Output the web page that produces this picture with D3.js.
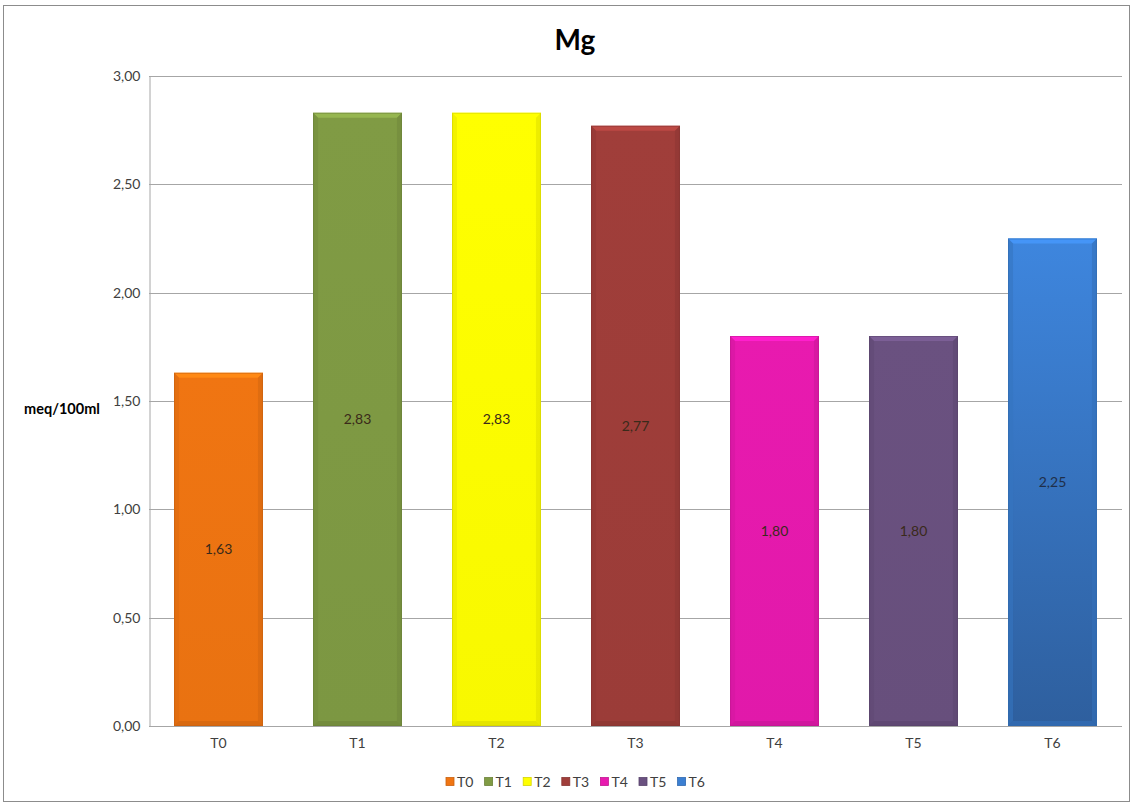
<!DOCTYPE html>
<html>
<head>
<meta charset="utf-8">
<script src="https://cdn.jsdelivr.net/npm/d3@7"></script>
<style>
  html, body { margin: 0; padding: 0; background: #fff; }
  svg { display: block; font-family: Lato, "Open Sans", "Liberation Sans", sans-serif; }
</style>
</head>
<body>
<svg id="chart" width="1132" height="805"></svg>
<script>
// Mg content per treatment (meq/100ml)
const categories = ["T0", "T1", "T2", "T3", "T4", "T5", "T6"];
const values = [1.63, 2.83, 2.83, 2.77, 1.80, 1.80, 2.25];
const colors = ["#F07512", "#809B44", "#FFFF00", "#A03E3A", "#E81AAF", "#6A5180", "#3B7FD2"];
const yTicks = [0, 0.5, 1, 1.5, 2, 2.5, 3];

const svg = d3.select("#chart");
const plot = { left: 149, right: 1122, top: 76, bottom: 726 };

const fmt = v => d3.format(".2f")(v).replace(".", ",");

// outer frame
svg.append("rect")
  .attr("x", 3.5).attr("y", 5.5).attr("width", 1126).attr("height", 796)
  .attr("fill", "#fff").attr("stroke", "#8c8c8c").attr("stroke-width", 1);

const x = d3.scaleBand().domain(categories).range([plot.left, plot.right]).paddingInner(0.36).paddingOuter(0.18);
const y = d3.scaleLinear().domain([0, 3]).range([plot.bottom, plot.top]);

// gridlines
svg.append("g").selectAll("line").data(yTicks).join("line")
  .attr("x1", plot.left).attr("x2", plot.right)
  .attr("y1", d => Math.round(y(d)) + 0.5).attr("y2", d => Math.round(y(d)) + 0.5)
  .attr("stroke", "#a6a6a6").attr("stroke-width", 1);

// y axis
const yAxis = svg.append("g")
  .attr("transform", `translate(${plot.left + 0.5},0)`)
  .call(d3.axisLeft(y).tickValues(yTicks).tickFormat(fmt).tickSize(0).tickPadding(9));
yAxis.select(".domain").attr("stroke", "#a6a6a6");
yAxis.selectAll("text").attr("font-size", 14).attr("fill", "#404040")
  .attr("font-family", "Lato, 'Open Sans', sans-serif");

// x axis
const xAxis = svg.append("g")
  .attr("transform", `translate(0,${plot.bottom + 0.5})`)
  .call(d3.axisBottom(x).tickSize(0).tickPadding(12));
xAxis.select(".domain").remove();
xAxis.selectAll("text").attr("font-size", 14).attr("fill", "#404040")
  .attr("font-family", "Lato, 'Open Sans', sans-serif");

// gradients for the bevelled bars
const defs = svg.append("defs");
colors.forEach((c, i) => {
  const g = defs.append("linearGradient").attr("id", "g" + i)
    .attr("x1", 0).attr("y1", 0).attr("x2", 0).attr("y2", 1);
  const base = d3.color(c);
  const top = i === 6 ? base.brighter(0.15) : base;
  const bot = i === 6 ? d3.color("#2E5F9E") : base.darker(0.08);
  g.append("stop").attr("offset", 0).attr("stop-color", top);
  g.append("stop").attr("offset", 1).attr("stop-color", bot);
});

const bars = svg.append("g").selectAll("g").data(values).join("g");
const bev = 5;

bars.append("rect")
  .attr("x", (d, i) => x(categories[i]))
  .attr("y", d => y(d))
  .attr("width", x.bandwidth())
  .attr("height", d => y(0) - y(d))
  .attr("fill", (d, i) => `url(#g${i})`);

// bevel edges: top lighter, sides and bottom darker
bars.append("path")
  .attr("d", (d, i) => {
    const x0 = x(categories[i]), x1 = x0 + x.bandwidth(), y0 = y(d);
    return `M${x0},${y0}L${x1},${y0}L${x1 - bev},${y0 + bev}L${x0 + bev},${y0 + bev}Z`;
  })
  .attr("fill", (d, i) => d3.color(colors[i]).brighter(0.45));
bars.append("path")
  .attr("d", (d, i) => {
    const x0 = x(categories[i]), y0 = y(d), y1 = y(0);
    return `M${x0},${y0}L${x0 + bev},${y0 + bev}L${x0 + bev},${y1 - bev}L${x0},${y1}Z`;
  })
  .attr("fill", (d, i) => d3.color(colors[i]).darker(0.25)).attr("opacity", 0.6);
bars.append("path")
  .attr("d", (d, i) => {
    const x1 = x(categories[i]) + x.bandwidth(), y0 = y(d), y1 = y(0);
    return `M${x1},${y0}L${x1 - bev},${y0 + bev}L${x1 - bev},${y1 - bev}L${x1},${y1}Z`;
  })
  .attr("fill", (d, i) => d3.color(colors[i]).darker(0.35)).attr("opacity", 0.6);
bars.append("path")
  .attr("d", (d, i) => {
    const x0 = x(categories[i]), x1 = x0 + x.bandwidth(), y1 = y(0);
    return `M${x0},${y1}L${x0 + bev},${y1 - bev}L${x1 - bev},${y1 - bev}L${x1},${y1}Z`;
  })
  .attr("fill", (d, i) => d3.color(colors[i]).darker(0.4)).attr("opacity", 0.7);
bars.append("rect")
  .attr("x", (d, i) => x(categories[i]) + 0.5)
  .attr("y", d => y(d) + 0.5)
  .attr("width", x.bandwidth() - 1)
  .attr("height", d => y(0) - y(d) - 1)
  .attr("fill", "none")
  .attr("stroke", (d, i) => d3.color(colors[i]).darker(0.6)).attr("stroke-opacity", 0.5);

// value labels at mid-height
bars.append("text")
  .attr("x", (d, i) => x(categories[i]) + x.bandwidth() / 2)
  .attr("y", d => (y(d) + y(0)) / 2)
  .attr("dy", "0.35em")
  .attr("text-anchor", "middle")
  .attr("font-size", 14)
  .attr("fill", (d, i) => i === 6 ? "#1f2f4a" : "#3a2a1a")
  .text(d => fmt(d));

// title
svg.append("text")
  .attr("x", 575).attr("y", 50)
  .attr("text-anchor", "middle")
  .attr("font-size", 28).attr("font-weight", "bold").attr("fill", "#000")
  .text("Mg");

// y axis title
svg.append("text")
  .attr("x", 62).attr("y", 409)
  .attr("dy", "0.35em")
  .attr("text-anchor", "middle")
  .attr("font-size", 14.5).attr("font-weight", "bold").attr("fill", "#000")
  .text("meq/100ml");

// legend
const legend = svg.append("g").attr("transform", "translate(446,782)");
const items = legend.selectAll("g").data(categories).join("g")
  .attr("transform", (d, i) => `translate(${i * 38.6},0)`);
items.append("rect")
  .attr("x", 0).attr("y", -4.5).attr("width", 8).attr("height", 8)
  .attr("fill", (d, i) => colors[i])
  .attr("stroke", (d, i) => d3.color(colors[i]).darker(0.5)).attr("stroke-width", 0.8);
items.append("text")
  .attr("x", 11).attr("y", 0).attr("dy", "0.35em")
  .attr("font-size", 14).attr("fill", "#404040")
  .text(d => d);
</script>
</body>
</html>
